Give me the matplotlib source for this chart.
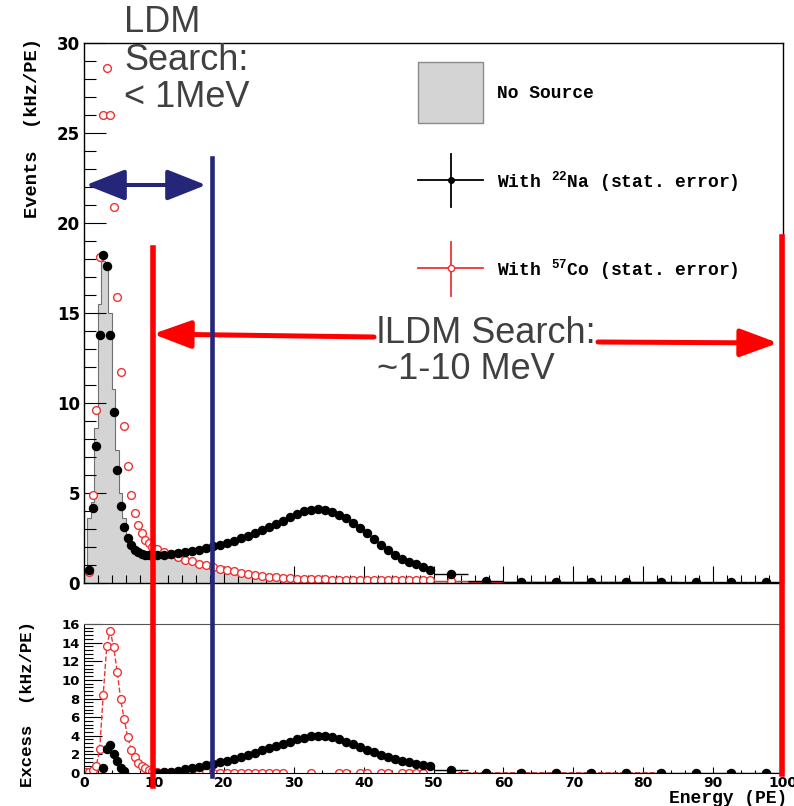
import numpy as np
import matplotlib
matplotlib.use("Agg")
import matplotlib.pyplot as plt
from matplotlib.ticker import MultipleLocator
from matplotlib.patches import Rectangle, FancyArrowPatch, ArrowStyle
from matplotlib.lines import Line2D

plt.rcParams['mathtext.fontset'] = 'custom'
plt.rcParams['mathtext.rm'] = 'Liberation Mono:bold'
plt.rcParams['mathtext.it'] = 'Liberation Mono:bold'
plt.rcParams['mathtext.bf'] = 'Liberation Mono:bold'

nan = np.nan

# variable binning: 0.5 PE below 10, 1 PE up to 50, 5 PE up to 100
edges = np.concatenate([np.arange(0, 10, 0.5), np.arange(10, 50, 1.0), np.arange(50, 101, 5.0)])

# No source (grey histogram), kHz/PE
nosource = [0.5, 3.6, 4.5, 8.6, 15.5, 17.9, 17.6, 15.0, 10.8, 7.4, 5.0, 3.6, 2.7, 2.2, 1.9, 1.75, 1.65, 1.6, 1.55, 1.55,
            1.5, 1.45, 1.38, 1.3, 1.22, 1.12, 1.02, 0.93, 0.84, 0.76, 0.68, 0.6, 0.53, 0.47, 0.41, 0.36, 0.32, 0.28, 0.25, 0.23,
            0.21, 0.2, 0.19, 0.18, 0.18, 0.17, 0.17, 0.16, 0.16, 0.16, 0.15, 0.15, 0.15, 0.14, 0.14, 0.14, 0.13, 0.13, 0.13, 0.12,
            0.1, 0.05, 0.04, 0.03, 0.03, 0.03, 0.02, 0.02, 0.02, 0.02]

# With 22Na
na22 = [nan, 0.7, 4.15, 7.6, 13.8, 18.2, 17.6, 13.8, 9.5, 6.3, 4.3, 3.1, 2.5, 2.1, 1.85, 1.7, 1.62, 1.57, 1.55, 1.55,
        1.55, 1.55, 1.6, 1.65, 1.7, 1.77, 1.84, 1.93, 2.03, 2.13, 2.24, 2.35, 2.48, 2.62, 2.77, 2.93, 3.1, 3.28, 3.47, 3.67,
        3.85, 3.98, 4.07, 4.1, 4.07, 3.96, 3.8, 3.6, 3.35, 3.06, 2.77, 2.45, 2.12, 1.82, 1.56, 1.35, 1.18, 1.04, 0.9, 0.75,
        0.48, 0.1, 0.06, 0.06, 0.05, 0.05, 0.05, 0.05, 0.05, 0.05]

# With 57Co
co57 = [nan, 0.6, 4.9, 9.6, 18.1, 26.0, 28.6, 26.0, 20.9, 15.9, 11.7, 8.7, 6.5, 4.9, 3.9, 3.2, 2.8, 2.4, 2.2, 2.0,
        1.9, 1.75, 1.6, 1.45, 1.3, 1.2, 1.08, 0.98, 0.88, 0.8, 0.72, 0.64, 0.57, 0.5, 0.44, 0.39, 0.35, 0.31, 0.28, 0.26,
        0.24, 0.22, 0.21, 0.2, 0.2, 0.19, 0.19, 0.18, 0.18, 0.18, 0.17, 0.17, 0.17, 0.16, 0.16, 0.16, 0.15, 0.15, 0.15, 0.15,
        0.12, 0.08, 0.05, 0.05, 0.04, 0.04, 0.04, nan, nan, nan]

# excess over no source (negative bins are not shown)
na22_excess = [nan, nan, nan, nan, nan, 0.55, 2.55, 3.0, 2.07, 1.25, 0.55, 0.22, nan, nan, nan, nan, nan, nan, nan, nan,
               0.05, 0.1, 0.16, 0.25, 0.38, 0.52, 0.68, 0.84, 1.0, 1.15, 1.33, 1.53, 1.75, 1.98, 2.2, 2.43, 2.66, 2.9, 3.14, 3.38,
               3.6, 3.78, 3.92, 3.98, 3.95, 3.83, 3.63, 3.38, 3.1, 2.8, 2.5, 2.24, 1.98, 1.73, 1.5, 1.32, 1.15, 0.99, 0.85, 0.7,
               0.32, 0.03, 0.02, 0.02, 0.02, 0.02, 0.02, 0.02, 0.02, 0.02]

co57_excess = [0.1, 0.15, 0.3, 0.75, 2.55, 8.4, 13.6, 15.25, 13.5, 10.85, 7.9, 5.75, 3.9, 2.5, 1.75, 1.05, 0.75, 0.5, 0.32, 0.2,
               0.15, 0.12, 0.1, 0.09, 0.08, 0.07, 0.06, 0.06, 0.05, 0.05, 0.05, 0.04, 0.04, 0.04, 0.03, 0.03, 0.03, 0.03, 0.03, nan,
               nan, nan, 0.03, nan, nan, nan, 0.03, 0.03, nan, 0.03, 0.03, nan, 0.03, 0.03, nan, 0.03, 0.03, 0.03, 0.03, nan,
               0.02, 0.01, 0.01, 0.01, 0.01, 0.01, 0.01, nan, nan, nan]

centers = 0.5 * (edges[:-1] + edges[1:])
halfw = 0.5 * np.diff(edges)

W, H = 794, 806
def fx(px):
    return px / W
def fy(py):
    return 1 - py / H

RED = '#ee3333'
MONO = 'Liberation Mono'

fig = plt.figure(figsize=(W / 100, H / 100), dpi=100)
ax = fig.add_axes([fx(84), fy(583), fx(783) - fx(84), fy(43) - fy(583)])
axb = fig.add_axes([fx(84), fy(773), fx(783) - fx(84), fy(624) - fy(773)])

# top panel
ax.stairs(nosource, edges, fill=True, facecolor='#d4d4d4', edgecolor='none')
ax.stairs(nosource, edges, fill=False, edgecolor='#707070', lw=0.8)
ax.errorbar(centers, co57, xerr=halfw, fmt='o', mfc='white', mec=RED, ecolor=RED,
            ms=5.6, mew=1.0, elinewidth=1.0, capsize=0)
ax.errorbar(centers, na22, xerr=halfw, fmt='o', color='black', ms=5.8,
            elinewidth=1.0, capsize=0)
ax.set_xlim(0, 100)
ax.set_ylim(0, 30)
ax.xaxis.set_major_locator(MultipleLocator(10))
ax.xaxis.set_minor_locator(MultipleLocator(2))
ax.yaxis.set_major_locator(MultipleLocator(5))
ax.yaxis.set_minor_locator(MultipleLocator(1))
ax.tick_params(axis='x', which='major', direction='in', length=12, width=0.8, labelbottom=False)
ax.tick_params(axis='x', which='minor', direction='in', length=6, width=0.8)
ax.tick_params(axis='y', which='major', direction='in', length=16, width=0.8, pad=3)
ax.tick_params(axis='y', which='minor', direction='in', length=8.5, width=0.8)
for lab in ax.get_yticklabels():
    lab.set_fontfamily('DejaVu Sans')
    lab.set_fontweight('bold')
    lab.set_fontsize(12)
for s in ax.spines.values():
    s.set_linewidth(1.0)

# bottom panel (excess)
axb.plot(centers, co57_excess, '--', color=RED, lw=1.0)
axb.plot(centers, co57_excess, 'o', mfc='white', mec=RED, ms=5.6, mew=1.0)
axb.errorbar(centers, na22_excess, xerr=halfw, fmt='o', color='black', ms=5.8,
             elinewidth=1.0, capsize=0)
axb.set_xlim(0, 100)
axb.set_ylim(0, 16)
axb.xaxis.set_major_locator(MultipleLocator(10))
axb.xaxis.set_minor_locator(MultipleLocator(2))
axb.yaxis.set_major_locator(MultipleLocator(2))
axb.yaxis.set_minor_locator(MultipleLocator(0.4))
axb.tick_params(axis='x', which='major', direction='in', length=4.5, width=0.8, pad=2)
axb.tick_params(axis='x', which='minor', direction='in', length=2.2, width=0.8)
axb.tick_params(axis='y', which='major', direction='in', length=13, width=0.8, pad=3)
axb.tick_params(axis='y', which='minor', direction='in', length=6.5, width=0.8)
for lab in axb.get_yticklabels():
    lab.set_fontfamily('DejaVu Sans')
    lab.set_fontweight('bold')
    lab.set_fontsize(9.5)
for lab in axb.get_xticklabels():
    lab.set_fontfamily('DejaVu Sans')
    lab.set_fontweight('bold')
    lab.set_fontsize(10)
axb.spines['top'].set_color('#555555')

# axis titles
fig.text(fx(33), fy(38), "Events  (kHz/PE)", rotation=90, ha='center', va='top',
         family=MONO, weight='bold', fontsize=13.5)
fig.text(fx(28), fy(621), "Excess  (kHz/PE)", rotation=90, ha='center', va='top',
         family=MONO, weight='bold', fontsize=12.5)
fig.text(fx(787), fy(803), "Energy (PE)", ha='right', va='baseline',
         family=MONO, weight='bold', fontsize=13)

# legend
fig.add_artist(Rectangle((fx(418), fy(123)), fx(483) - fx(418), fy(62) - fy(123),
                         transform=fig.transFigure, facecolor='#d4d4d4', edgecolor='#8a8a8a', lw=1.0))
fig.add_artist(Line2D([fx(418), fx(483)], [fy(180), fy(180)], transform=fig.transFigure, color='black', lw=1.3))
fig.add_artist(Line2D([fx(451), fx(451)], [fy(154), fy(207)], transform=fig.transFigure, color='black', lw=1.3))
fig.add_artist(Line2D([fx(451)], [fy(180)], transform=fig.transFigure, marker='o', color='black', ms=4))
fig.add_artist(Line2D([fx(418), fx(483)], [fy(268), fy(268)], transform=fig.transFigure, color=RED, lw=1.3))
fig.add_artist(Line2D([fx(451), fx(451)], [fy(242), fy(296)], transform=fig.transFigure, color=RED, lw=1.3))
fig.add_artist(Line2D([fx(451)], [fy(268)], transform=fig.transFigure, marker='o', mfc='white', mec=RED, ms=4.5))
leg_kw = dict(family=MONO, weight='bold', fontsize=13, va='center', ha='left')
fig.text(fx(497), fy(93), "No Source", **leg_kw)
fig.text(fx(497), fy(182), r"With $^{22}$Na (stat. error)", **leg_kw)
fig.text(fx(497), fy(270), r"With $^{57}$Co (stat. error)", **leg_kw)

# slide annotations
NAVY = '#25257a'
fig.add_artist(Line2D([fx(212), fx(212)], [fy(158), fy(776)], transform=fig.transFigure, color=NAVY, lw=3.3))
fig.add_artist(Line2D([fx(152.5), fx(152.5)], [fy(248), fy(786)], transform=fig.transFigure, color='#ff0000', lw=4))
fig.add_artist(Line2D([fx(782), fx(782)], [fy(237), fy(774)], transform=fig.transFigure, color='#ff0000', lw=4))
fig.add_artist(FancyArrowPatch((fx(86), fy(185)), (fx(206), fy(185)), transform=fig.transFigure,
                               arrowstyle=ArrowStyle('<|-|>', head_length=24, head_width=9.5),
                               color=NAVY, lw=2.9, shrinkA=0, shrinkB=0, mutation_scale=1))
fig.add_artist(FancyArrowPatch((fx(374), fy(337)), (fx(153), fy(334)), transform=fig.transFigure,
                               arrowstyle=ArrowStyle('-|>', head_length=23, head_width=8.5),
                               color='#ff0000', lw=3.6, shrinkA=0, shrinkB=0, mutation_scale=1))
fig.add_artist(FancyArrowPatch((fx(598), fy(342)), (fx(778), fy(343)), transform=fig.transFigure,
                               arrowstyle=ArrowStyle('-|>', head_length=23, head_width=8.5),
                               color='#ff0000', lw=3.6, shrinkA=0, shrinkB=0, mutation_scale=1))
fig.text(fx(124), fy(5), "LDM\nSearch:\n< 1MeV", ha='left', va='top', fontsize=26,
         family='Liberation Sans', color='#404040', linespacing=1.1)
fig.text(fx(377), fy(316), "lLDM Search:\n~1-10 MeV", ha='left', va='top', fontsize=26,
         family='Liberation Sans', color='#404040', linespacing=1.05)

fig.savefig("out.png", dpi=100)
